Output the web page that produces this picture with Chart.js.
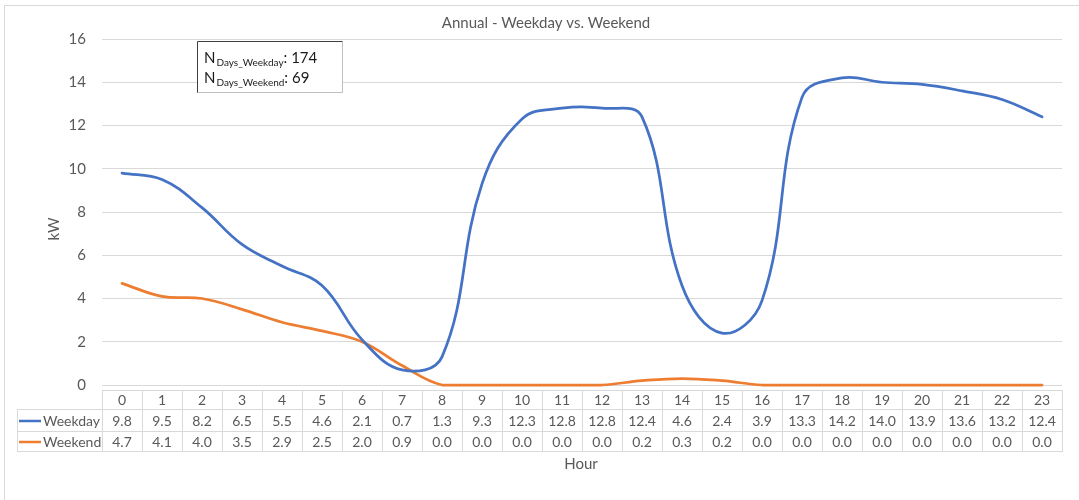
<!DOCTYPE html>
<html>
<head>
<meta charset="utf-8">
<title>Annual - Weekday vs. Weekend</title>
<script src="https://cdn.jsdelivr.net/npm/chart.js@4"></script>
<style>
  html, body { margin: 0; padding: 0; background: #ffffff; }
  #wrap { width: 1079px; height: 500px; }
</style>
</head>
<body>
<div id="wrap"><canvas id="c" width="1079" height="500"></canvas></div>
<script>
// Hourly average load (kW)
const hours = ['0','1','2','3','4','5','6','7','8','9','10','11','12','13','14','15','16','17','18','19','20','21','22','23'];
const weekday = [9.8, 9.5, 8.2, 6.5, 5.5, 4.6, 2.1, 0.7, 1.3, 9.3, 12.3, 12.8, 12.8, 12.4, 4.6, 2.4, 3.9, 13.3, 14.2, 14.0, 13.9, 13.6, 13.2, 12.4];
const weekend = [4.7, 4.1, 4.0, 3.5, 2.9, 2.5, 2.0, 0.9, 0.0, 0.0, 0.0, 0.0, 0.0, 0.2, 0.3, 0.2, 0.0, 0.0, 0.0, 0.0, 0.0, 0.0, 0.0, 0.0];
const seriesNames = ['Weekday', 'Weekend'];
const seriesColors = ['#4472C4', '#ED7D31'];
const yTicks = [0, 2, 4, 6, 8, 10, 12, 14, 16];

// Number of days behind each profile
const dayTags = ['Days_Weekday', 'Days_Weekend'];
const dayCounts = [174, 69];

const FONT = 'Lato, "Liberation Sans", sans-serif';
const TEXT = '#595959';
const GRID = '#D9D9D9';

// Frame, axis titles, data table and the day-count note
const decorations = {
  id: 'decorations',
  beforeDraw(chart) {
    const ctx = chart.ctx;
    ctx.save();
    ctx.strokeStyle = GRID;
    ctx.lineWidth = 1;
    ctx.strokeRect(4.5, 5.5, chart.width + 10, chart.height + 10);
    ctx.restore();
  },
  afterDraw(chart) {
    const ctx = chart.ctx;
    const area = chart.chartArea;
    const x = chart.scales.x;
    const step = x.getPixelForValue(1) - x.getPixelForValue(0);

    const tableTop = Math.round(area.bottom) + 5;
    const headBottom = tableTop + 19;
    const rowBottoms = [headBottom + 22, headBottom + 42];
    const legendLeft = 17;

    ctx.save();
    ctx.strokeStyle = GRID;
    ctx.lineWidth = 1;
    ctx.beginPath();
    // horizontal rules
    ctx.moveTo(area.left, tableTop + 0.5); ctx.lineTo(area.right, tableTop + 0.5);
    ctx.moveTo(legendLeft, headBottom + 0.5); ctx.lineTo(area.right, headBottom + 0.5);
    rowBottoms.forEach(yb => { ctx.moveTo(legendLeft, yb + 0.5); ctx.lineTo(area.right, yb + 0.5); });
    // column separators
    for (let i = 0; i <= hours.length; i++) {
      const px = Math.round(x.getPixelForValue(0) - step / 2 + i * step) + 0.5;
      ctx.moveTo(px, tableTop); ctx.lineTo(px, rowBottoms[1] + 1);
    }
    ctx.moveTo(legendLeft + 0.5, headBottom); ctx.lineTo(legendLeft + 0.5, rowBottoms[1] + 1);
    ctx.stroke();

    // table body: legend keys and values
    const rows = [weekday, weekend];
    ctx.font = '14px ' + FONT;
    ctx.textBaseline = 'middle';
    rows.forEach((vals, r) => {
      const top = r === 0 ? headBottom : rowBottoms[0];
      const cy = (top + rowBottoms[r]) / 2 + 1;
      ctx.strokeStyle = seriesColors[r];
      ctx.lineWidth = 2.5;
      ctx.beginPath();
      ctx.moveTo(19, cy); ctx.lineTo(41, cy);
      ctx.stroke();
      ctx.fillStyle = TEXT;
      ctx.textAlign = 'left';
      ctx.fillText(seriesNames[r], 43, cy);
      ctx.textAlign = 'center';
      vals.forEach((v, i) => ctx.fillText(v.toFixed(1), x.getPixelForValue(i), cy));
    });

    // axis titles
    ctx.fillStyle = TEXT;
    ctx.font = '15px ' + FONT;
    ctx.textAlign = 'center';
    ctx.textBaseline = 'middle';
    ctx.fillText('Hour', 581, 464);
    ctx.save();
    ctx.translate(54, 229);
    ctx.rotate(-Math.PI / 2);
    ctx.fillText('kW', 0, 0);
    ctx.restore();

    // day-count note
    const bx = 197.5, by = 41.5, bw = 145, bh = 51;
    ctx.fillStyle = '#ffffff';
    ctx.fillRect(bx, by, bw, bh);
    ctx.lineWidth = 1;
    ctx.strokeStyle = '#BFBFBF';
    ctx.beginPath();
    ctx.moveTo(bx + bw, by); ctx.lineTo(bx + bw, by + bh); ctx.lineTo(bx, by + bh);
    ctx.stroke();
    ctx.strokeStyle = '#404040';
    ctx.beginPath();
    ctx.moveTo(bx, by + bh); ctx.lineTo(bx, by); ctx.lineTo(bx + bw, by);
    ctx.stroke();

    ctx.fillStyle = '#1a1a1a';
    ctx.textAlign = 'left';
    ctx.textBaseline = 'alphabetic';
    dayTags.forEach((tag, i) => {
      const base = 63 + i * 20;
      let cx = 204;
      ctx.font = '15px ' + FONT;
      ctx.fillText('N', cx, base);
      cx += ctx.measureText('N').width + 1;
      ctx.font = '10px ' + FONT;
      ctx.fillText(tag, cx, base + 3);
      cx += ctx.measureText(tag).width;
      ctx.font = '15px ' + FONT;
      ctx.fillText(': ' + dayCounts[i], cx, base);
    });
    ctx.restore();
  }
};

new Chart(document.getElementById('c'), {
  type: 'line',
  data: {
    labels: hours,
    datasets: [
      { label: seriesNames[0], data: weekday, borderColor: seriesColors[0], backgroundColor: seriesColors[0], clip: false },
      { label: seriesNames[1], data: weekend, borderColor: seriesColors[1], backgroundColor: seriesColors[1], clip: false }
    ]
  },
  options: {
    responsive: false,
    animation: false,
    events: [],
    layout: { padding: { left: 30, right: 17, top: 0, bottom: 0 } },
    elements: {
      line: { borderWidth: 2.75, tension: 0.4, borderCapStyle: 'round' },
      point: { radius: 0 }
    },
    plugins: {
      legend: { display: false },
      tooltip: { enabled: false },
      title: {
        display: true,
        text: 'Annual - Weekday vs. Weekend',
        color: TEXT,
        font: { family: FONT, size: 15, weight: 'normal' },
        padding: { top: 14, bottom: 7 }
      }
    },
    scales: {
      x: {
        type: 'category',
        offset: true,
        grid: { display: false, drawTicks: false },
        border: { display: false },
        ticks: { color: TEXT, font: { family: FONT, size: 14 }, padding: 7, maxRotation: 0, autoSkip: false },
        afterFit(scale) { scale.height = 115; }
      },
      y: {
        min: 0,
        max: 16,
        afterBuildTicks(scale) { scale.ticks = yTicks.map(v => ({ value: v })); },
        grid: { color: GRID, lineWidth: 1, drawTicks: false },
        border: { display: false },
        ticks: { color: TEXT, font: { family: FONT, size: 15 }, padding: 16 },
        afterFit(scale) { scale.width = 72; }
      }
    }
  },
  plugins: [decorations]
});
</script>
</body>
</html>
